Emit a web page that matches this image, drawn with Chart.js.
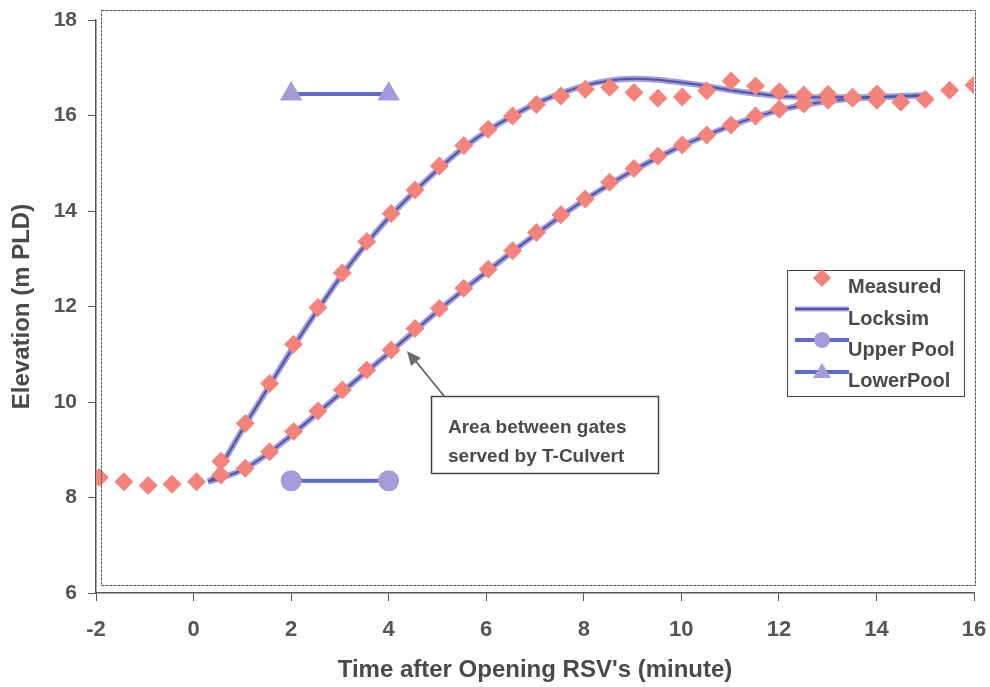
<!DOCTYPE html>
<html>
<head>
<meta charset="utf-8">
<script src="https://cdn.jsdelivr.net/npm/chart.js@4/dist/chart.umd.min.js"></script>
<style>
  html, body { margin: 0; padding: 0; background: #fff; }
  #wrap { width: 990px; height: 687px; }
</style>
</head>
<body>
<div id="wrap"><canvas id="elevChart" width="990" height="687"></canvas></div>
<script>
// Measured elevations: the common start, the fast-filling chamber and the slow one
const startTime = [-1.93, -1.43, -0.93, -0.44, 0.06];
const startElev = [8.42, 8.33, 8.25, 8.28, 8.33];

const fastTime = [0.56, 1.06, 1.56, 2.05, 2.55, 3.05, 3.55, 4.05, 4.54, 5.04, 5.54, 6.04, 6.54, 7.03, 7.53, 8.03,
  8.53, 9.03, 9.52, 10.02, 10.52, 11.02, 11.52, 12.01, 12.51, 13.01, 13.51, 14.01, 14.50, 15.00, 15.50, 16.00];
const fastElev = [8.76, 9.55, 10.39, 11.21, 11.98, 12.70, 13.36, 13.95, 14.44, 14.94, 15.37, 15.71, 15.99, 16.23, 16.41, 16.55,
  16.59, 16.48, 16.36, 16.39, 16.52, 16.72, 16.62, 16.50, 16.43, 16.44, 16.38, 16.45, 16.28, 16.34, 16.53, 16.64];

const slowTime = [0.56, 1.06, 1.56, 2.05, 2.55, 3.05, 3.55, 4.05, 4.54, 5.04, 5.54, 6.04, 6.54, 7.03, 7.53, 8.03,
  8.53, 9.03, 9.52, 10.02, 10.52, 11.02, 11.52, 12.01, 12.51, 13.01, 13.51, 14.01];
const slowElev = [8.47, 8.61, 8.96, 9.38, 9.81, 10.25, 10.67, 11.09, 11.54, 11.96, 12.38, 12.78, 13.17, 13.55, 13.92, 14.25,
  14.60, 14.89, 15.15, 15.38, 15.59, 15.80, 15.99, 16.13, 16.24, 16.32, 16.36, 16.32];

// Locksim results for both chambers
const simTime = [0.3, 0.45, 0.6, 1.0, 1.5, 2.0, 2.5, 3.0, 3.5, 4.0, 4.5, 5.0, 5.5, 6.0, 6.5, 7.0, 7.5, 8.0,
  8.5, 9.0, 9.5, 10.0, 10.5, 11.0, 11.5, 12.0, 12.5, 13.0, 13.5, 14.0, 14.5, 15.0];
const simFastElev = [8.33, 8.45, 8.72, 9.42, 10.25, 11.08, 11.86, 12.60, 13.26, 13.86, 14.38, 14.86, 15.30, 15.66, 15.97, 16.24, 16.45, 16.62,
  16.73, 16.77, 16.75, 16.69, 16.62, 16.53, 16.46, 16.41, 16.39, 16.38, 16.38, 16.39, 16.40, 16.42];
const simSlowElev = [8.33, 8.37, 8.42, 8.58, 8.90, 9.30, 9.73, 10.17, 10.60, 11.02, 11.46, 11.90, 12.32, 12.72, 13.12, 13.50, 13.87, 14.22,
  14.54, 14.84, 15.11, 15.36, 15.58, 15.78, 15.96, 16.11, 16.22, 16.30, 16.35, 16.38, 16.41, 16.42];

// Pool levels
const poolTime = [2, 4];
const upperPoolElev = [8.35, 8.35];
const lowerPoolElev = [16.45, 16.45];

const xTicks = [-2, 0, 2, 4, 6, 8, 10, 12, 14, 16];
const yTicks = [6, 8, 10, 12, 14, 16, 18];

const pts = (xs, ys) => xs.map((x, i) => ({ x: x, y: ys[i] }));

const PINK = '#f4837c';
const LAV = '#a59bd8';
const NAVY = '#4c56a6';
const POOLBLUE = '#5f6cc2';
const TEXT = '#4a4a4a';
const FONT = "'Liberation Sans', Arial, sans-serif";

const measured = pts(startTime, startElev).concat(pts(fastTime, fastElev), pts(slowTime, slowElev));

// plot border, legend box and callout are drawn straight on the canvas
const extras = {
  id: 'extras',
  afterDraw(chart) {
    const ctx = chart.ctx;
    ctx.save();

    // dashed plot-area frame
    ctx.strokeStyle = '#555';
    ctx.lineWidth = 1;
    ctx.setLineDash([3, 1]);
    ctx.strokeRect(101.5, 10.5, 874, 575);
    ctx.setLineDash([]);

    // legend
    ctx.fillStyle = '#fff';
    ctx.fillRect(787, 270, 177, 126);
    ctx.strokeStyle = '#444';
    ctx.strokeRect(787.5, 270.5, 177, 126);
    ctx.fillStyle = TEXT;
    ctx.font = 'bold 20px ' + FONT;
    ctx.textBaseline = 'middle';
    ctx.textAlign = 'left';
    const rows = ['Measured', 'Locksim', 'Upper Pool', 'LowerPool'];
    const rowY = [287, 319, 350, 381];
    rows.forEach((r, i) => ctx.fillText(r, 848, rowY[i]));

    // Measured diamond
    ctx.fillStyle = PINK;
    ctx.beginPath();
    ctx.moveTo(822, 269); ctx.lineTo(831, 278); ctx.lineTo(822, 287); ctx.lineTo(813, 278);
    ctx.closePath(); ctx.fill();

    // Locksim line
    ctx.lineCap = 'butt';
    ctx.strokeStyle = LAV; ctx.lineWidth = 5;
    ctx.beginPath(); ctx.moveTo(795, 309); ctx.lineTo(849, 309); ctx.stroke();
    ctx.strokeStyle = NAVY; ctx.lineWidth = 2;
    ctx.beginPath(); ctx.moveTo(795, 309); ctx.lineTo(849, 309); ctx.stroke();

    // Pool lines with markers
    [340, 372].forEach((y, i) => {
      ctx.strokeStyle = POOLBLUE; ctx.lineWidth = 4;
      ctx.beginPath(); ctx.moveTo(795, y); ctx.lineTo(849, y); ctx.stroke();
      ctx.fillStyle = LAV;
      ctx.beginPath();
      if (i === 0) {
        ctx.arc(822, y, 8, 0, Math.PI * 2);
      } else {
        ctx.moveTo(822, y - 9); ctx.lineTo(831, y + 6); ctx.lineTo(813, y + 6); ctx.closePath();
      }
      ctx.fill();
    });

    // callout box
    ctx.fillStyle = '#fff';
    ctx.fillRect(431, 396, 227, 77);
    ctx.strokeStyle = '#444';
    ctx.lineWidth = 1.5;
    ctx.strokeRect(431.5, 396.5, 227, 77);
    ctx.fillStyle = TEXT;
    ctx.font = 'bold 19px ' + FONT;
    ctx.fillText('Area between gates', 448, 428);
    ctx.fillText('served by T-Culvert', 448, 457);

    // arrow to the slow curve
    ctx.strokeStyle = '#555';
    ctx.lineWidth = 1.5;
    ctx.beginPath(); ctx.moveTo(444, 396); ctx.lineTo(414, 359); ctx.stroke();
    ctx.fillStyle = '#6c6c6c';
    ctx.beginPath();
    ctx.moveTo(407, 351); ctx.lineTo(421, 358); ctx.lineTo(411, 366); ctx.closePath();
    ctx.fill();

    ctx.restore();
  }
};

const ctx = document.getElementById('elevChart').getContext('2d');
new Chart(ctx, {
  type: 'scatter',
  data: {
    datasets: [
      {
        label: 'Measured',
        data: measured,
        pointStyle: 'rectRot',
        pointRadius: 9.5,
        backgroundColor: PINK,
        borderColor: PINK,
        borderWidth: 0,
        showLine: false
      },
      {
        label: 'Upper Pool',
        data: pts(poolTime, upperPoolElev),
        showLine: true,
        borderColor: POOLBLUE,
        borderWidth: 4,
        pointStyle: 'circle',
        pointRadius: 8.5,
        pointBackgroundColor: LAV,
        pointBorderColor: LAV
      },
      {
        label: 'LowerPool',
        data: pts(poolTime, lowerPoolElev),
        showLine: true,
        borderColor: POOLBLUE,
        borderWidth: 4,
        pointStyle: 'triangle',
        pointRadius: 9,
        pointBackgroundColor: LAV,
        pointBorderColor: LAV
      },
      // Locksim curves: thin dark core over a wider lavender band
      {
        label: 'Locksim',
        data: pts(simTime, simFastElev),
        showLine: true, pointRadius: 0,
        borderColor: NAVY, borderWidth: 2,
        cubicInterpolationMode: 'monotone'
      },
      {
        label: 'Locksim',
        data: pts(simTime, simSlowElev),
        showLine: true, pointRadius: 0,
        borderColor: NAVY, borderWidth: 2,
        cubicInterpolationMode: 'monotone'
      },
      {
        label: 'Locksim',
        data: pts(simTime, simFastElev),
        showLine: true, pointRadius: 0,
        borderColor: LAV, borderWidth: 6,
        cubicInterpolationMode: 'monotone'
      },
      {
        label: 'Locksim',
        data: pts(simTime, simSlowElev),
        showLine: true, pointRadius: 0,
        borderColor: LAV, borderWidth: 6,
        cubicInterpolationMode: 'monotone'
      }
    ]
  },
  options: {
    responsive: false,
    animation: false,
    layout: { padding: { top: 20, right: 16, left: 0, bottom: 0 } },
    plugins: {
      legend: { display: false },
      tooltip: { enabled: false }
    },
    scales: {
      x: {
        type: 'linear',
        min: -2,
        max: 16,
        afterFit: s => { s.height = 94; s.paddingLeft = 0; s.paddingRight = 0; },
        afterBuildTicks: s => { s.ticks = xTicks.map(v => ({ value: v })); },
        grid: { drawOnChartArea: false, drawTicks: true, tickLength: 8, color: '#555' },
        border: { display: true, color: '#555', width: 1.5 },
        ticks: { color: '#555', padding: 16, font: { family: FONT, size: 22, weight: 'bold' } },
        title: {
          display: true,
          text: "Time after Opening RSV's (minute)",
          color: TEXT,
          font: { family: FONT, size: 24, weight: 'bold' },
          padding: { top: 0, bottom: 2 }
        }
      },
      y: {
        min: 6,
        max: 18,
        afterFit: s => { s.width = 96; s.paddingTop = 0; s.paddingBottom = 0; },
        afterBuildTicks: s => { s.ticks = yTicks.map(v => ({ value: v })); },
        grid: { drawOnChartArea: false, drawTicks: true, tickLength: 8, color: '#555' },
        border: { display: true, color: '#555', width: 1.5 },
        ticks: { color: '#555', padding: 11, font: { family: FONT, size: 21, weight: 'bold' } },
        title: {
          display: true,
          text: 'Elevation (m PLD)',
          color: TEXT,
          font: { family: FONT, size: 24, weight: 'bold' },
          padding: { top: 8, bottom: 0 }
        }
      }
    }
  },
  plugins: [extras]
});
</script>
</body>
</html>
